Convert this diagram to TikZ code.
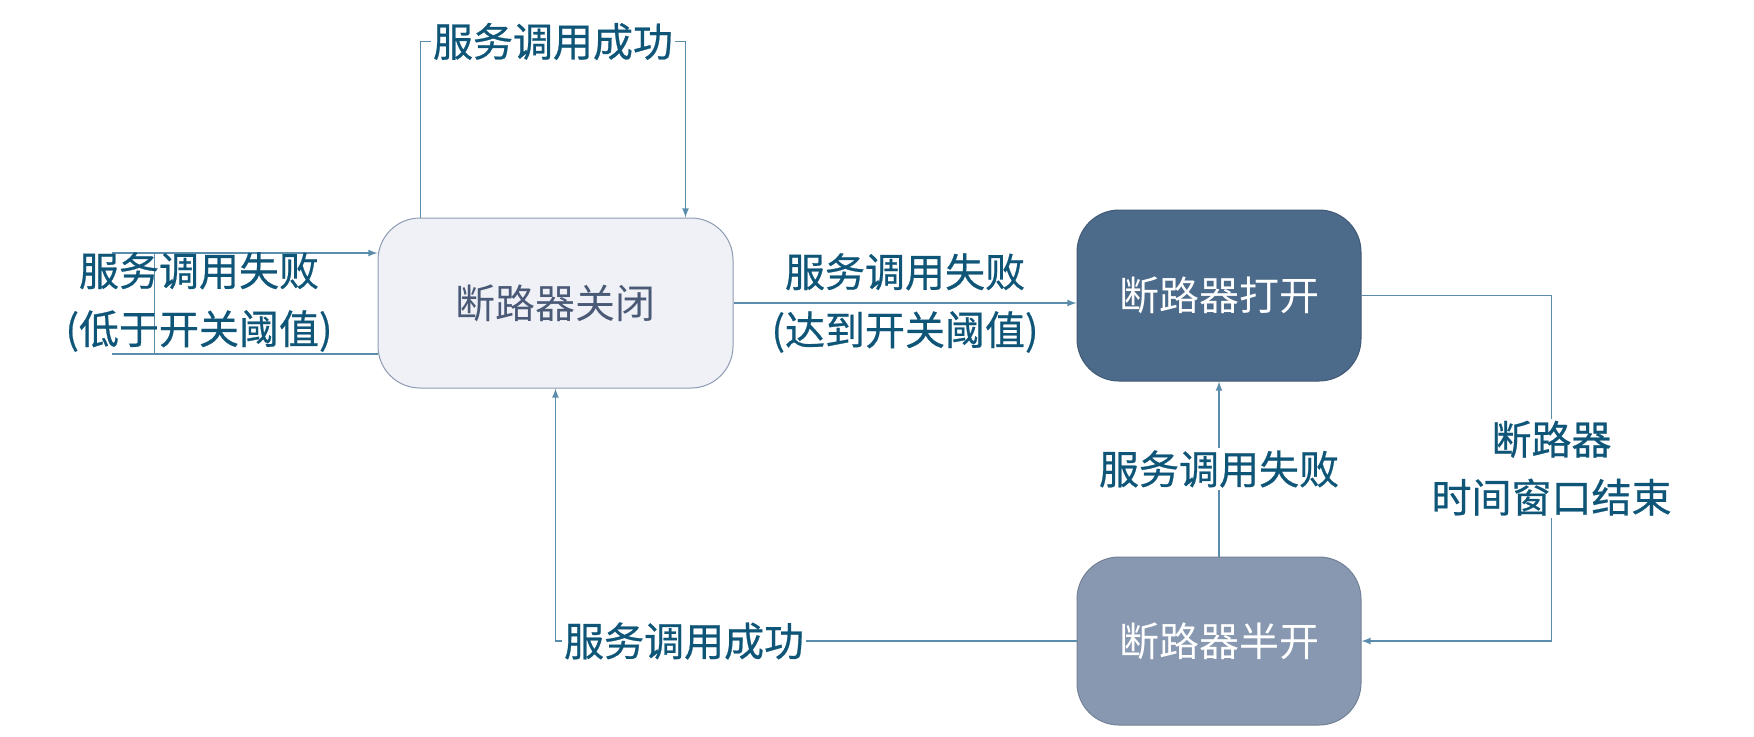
\documentclass[tikz,border=0pt]{standalone}
\usepackage{xcolor}
\usepackage{fontspec}
\newfontfamily\cjk{Noto Sans CJK SC}
\newfontfamily\cjklbl[FakeBold=0.6]{Noto Sans CJK SC}
\usetikzlibrary{positioning,shapes,arrows,calc}

\definecolor{closedfill}{HTML}{EFF1F6}
\definecolor{closeddraw}{HTML}{8E9BB2}
\definecolor{closedtext}{HTML}{4A5A76}
\definecolor{openfill}{HTML}{4C6A8A}
\definecolor{halffill}{HTML}{8798B0}
\definecolor{wirecol}{HTML}{5A8CAB}
\definecolor{lbltext}{HTML}{0E5578}

\begin{document}
\begin{tikzpicture}[x=0.5pt, y=-0.5pt,
    state/.style={draw, rounded corners=21pt, line width=0.5pt, align=center,
        font=\cjk\fontsize{20}{30}\selectfont},
    wire/.style={draw=wirecol, line width=0.6pt},
    link/.style={wire, -latex},
    lbl/.style={text=lbltext, fill=white, inner sep=1pt, align=center,
        font=\cjklbl\fontsize{20}{29}\selectfont},
    lblbare/.style={lbl, fill=none}]
    \useasboundingbox (0,0) rectangle (1754,736);

    \node[state, fill=closedfill, draw=closeddraw, text=closedtext, minimum width=177.5pt, minimum height=85pt] (closed) at (555.5,303) 
        {断路器关闭};
    
    \node[state, fill=openfill, draw=openfill!85!black, text=white, minimum width=142pt, minimum height=85.5pt] (open) at (1219,295.5) 
        {断路器打开};
    
    \node[state, fill=halffill, draw=halffill!85!black, text=white, minimum width=142pt, minimum height=84pt, below=87.5pt of open] (half) 
        {断路器半开};

    % closed: success loop on top
    \draw[link] ([xshift=21.5pt]closed.north west) -- ++(0,-176) -| node[lbl, pos=0.25] (oktop) {服务调用成功} ([xshift=-24pt]closed.north east);

    % closed: failure below threshold
    \draw[link] ([shift={(-266,-50)}]closed.west) -- ([yshift=25pt]closed.west);
    \draw[wire] ([shift={(-266,51)}]closed.west) -- ([yshift=-25.5pt]closed.west);
    \draw[wire] ([shift={(-223,-50)}]closed.west) -- ([shift={(-223,51)}]closed.west);
    \node[lblbare] (faillow) at (199,302) {服务调用失败\\(低于开关阈值)};

    \draw[link] (closed.east) -- (closed.east -| open.west) node[lblbare, midway] (failhigh) {服务调用失败\\(达到开关阈值)};
    \draw[link] (open.east) -- ++(190,0) coordinate (openright) -- (openright |- half.east) node[lbl, midway] (timeout) {断路器\\时间窗口结束} -- (half.east);
    \draw[link] (half.north) -- (open.south) node[lbl, midway] (failhalf) {服务调用失败};
    \draw[link] (half.west) -| node[lbl, pos=0.5, anchor=west, xshift=3pt] (okhalf) {服务调用成功} (closed.south);
\end{tikzpicture}
\end{document}
